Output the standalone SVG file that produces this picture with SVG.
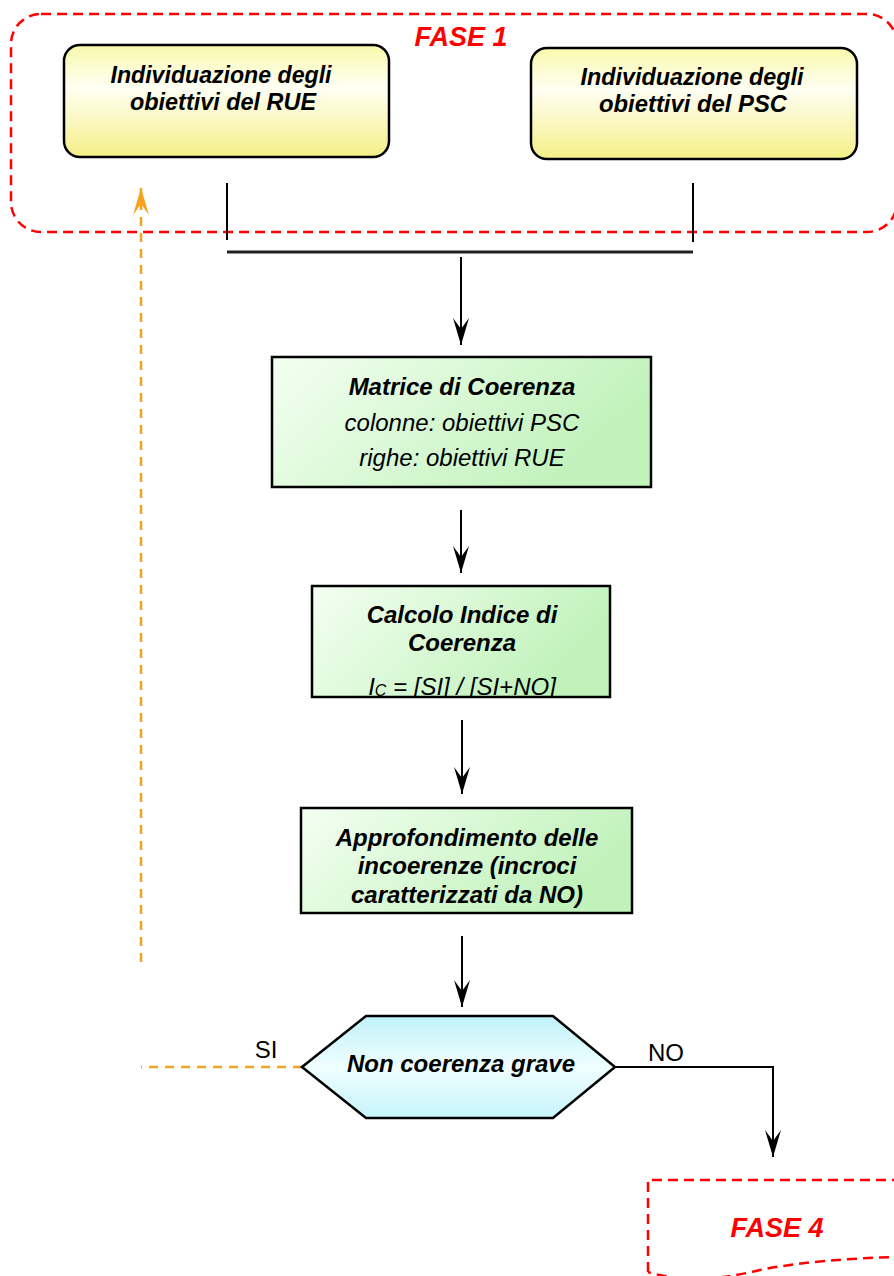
<svg xmlns="http://www.w3.org/2000/svg" width="894" height="1276" viewBox="0 0 894 1276">
<style>
.t{font-family:"Liberation Sans",Arial,sans-serif;font-weight:bold;font-style:italic;font-size:24px;fill:#000;text-anchor:middle}
.ti{font-family:"Liberation Sans",Arial,sans-serif;font-style:italic;font-size:24px;fill:#000;text-anchor:middle}
.tn{font-family:"Liberation Sans",Arial,sans-serif;font-size:24px;fill:#000;text-anchor:middle}
.fase{font-family:"Liberation Sans",Arial,sans-serif;font-weight:bold;font-style:italic;font-size:27px;fill:#ff0000;text-anchor:middle}
.box{stroke:#000;stroke-width:2.5}
.red{fill:none;stroke:#ff0000;stroke-width:2.5;stroke-dasharray:10 6}
.ln{fill:none;stroke:#000;stroke-width:2}
.or{fill:none;stroke:#f7a21c;stroke-width:2.5;stroke-dasharray:9 7}
</style>
<defs>
<linearGradient id="gy" x1="0" y1="0" x2="0" y2="1">
<stop offset="0" stop-color="#f9f9ac"/>
<stop offset="0.38" stop-color="#fffff4"/>
<stop offset="1" stop-color="#f4ef86"/>
</linearGradient>
<linearGradient id="gg" x1="0" y1="0" x2="1" y2="0.35">
<stop offset="0" stop-color="#f4fff2"/>
<stop offset="1" stop-color="#c0f2ba"/>
</linearGradient>
<linearGradient id="gc" x1="0" y1="0" x2="0" y2="1">
<stop offset="0" stop-color="#bff2f8"/>
<stop offset="0.5" stop-color="#f0feff"/>
<stop offset="1" stop-color="#c6f5fa"/>
</linearGradient>
<marker id="ah" markerUnits="userSpaceOnUse" markerWidth="27" markerHeight="16" refX="27" refY="8" orient="auto" viewBox="0 0 27 16">
<path d="M0,0 L27,8 L0,16 L11,8 Z" fill="#000"/>
</marker>
<marker id="ao" markerUnits="userSpaceOnUse" markerWidth="27" markerHeight="16" refX="27" refY="8" orient="auto" viewBox="0 0 27 16">
<path d="M0,0 L27,8 L0,16 L11,8 Z" fill="#f7a21c"/>
</marker>
<clipPath id="cc"><rect x="312" y="586" width="298" height="110"/></clipPath>
</defs>

<g id="fase1">
<rect class="red" x="11" y="14" width="886" height="218" rx="30"/>
<text class="fase" x="461" y="46" font-size="28" textLength="93" lengthAdjust="spacingAndGlyphs">FASE 1</text>
</g>

<g id="connectors">
<line class="ln" x1="227" y1="183" x2="227" y2="240"/>
<line class="ln" x1="693" y1="183" x2="693" y2="242"/>
<line x1="227" y1="252" x2="693" y2="252" stroke="#222" stroke-width="3"/>
<line class="ln" x1="461" y1="257" x2="461" y2="345" marker-end="url(#ah)"/>
<line class="ln" x1="461" y1="510" x2="461" y2="573" marker-end="url(#ah)"/>
<line class="ln" x1="462" y1="720" x2="462" y2="794" marker-end="url(#ah)"/>
<line class="ln" x1="462" y1="936" x2="462" y2="1007" marker-end="url(#ah)"/>
<polyline class="ln" points="615,1067 773,1067 773,1157" marker-end="url(#ah)"/>
<line class="or" x1="302" y1="1067" x2="141" y2="1067"/>
<line class="or" x1="141" y1="962" x2="141" y2="188" marker-end="url(#ao)"/>
<text class="tn" x="266" y="1058">SI</text>
<text class="tn" x="666" y="1061">NO</text>
</g>

<g id="rue">
<rect class="box" x="64" y="45" width="325" height="112" rx="16" fill="url(#gy)"/>
<text class="t" x="221" y="83" font-size="25" textLength="221" lengthAdjust="spacingAndGlyphs">Individuazione degli</text>
<text class="t" x="223" y="110" font-size="25" textLength="186" lengthAdjust="spacingAndGlyphs">obiettivi del RUE</text>
</g>

<g id="psc">
<rect class="box" x="531" y="48" width="326" height="111" rx="16" fill="url(#gy)"/>
<text class="t" x="692" y="85" font-size="25" textLength="223" lengthAdjust="spacingAndGlyphs">Individuazione degli</text>
<text class="t" x="693" y="112" font-size="25" textLength="188" lengthAdjust="spacingAndGlyphs">obiettivi del PSC</text>
</g>

<g id="matrice">
<rect class="box" x="272" y="357" width="379" height="130" fill="url(#gg)"/>
<text class="t" x="462" y="395">Matrice di Coerenza</text>
<text class="ti" x="462" y="431">colonne: obiettivi PSC</text>
<text class="ti" x="462" y="466">righe: obiettivi RUE</text>
</g>

<g id="calcolo">
<rect x="312" y="586" width="298" height="111" fill="url(#gg)"/>
<text class="t" x="462" y="623">Calcolo Indice di</text>
<text class="t" x="462" y="651">Coerenza</text>
<g clip-path="url(#cc)">
<text class="ti" x="462" y="695"><tspan>I</tspan><tspan font-size="16" dy="1">C</tspan><tspan dy="-1"> = [SI] / [SI+NO]</tspan></text>
</g>
<rect class="box" x="312" y="586" width="298" height="111" fill="none"/>
</g>

<g id="approfondimento">
<rect class="box" x="301" y="808" width="331" height="105" fill="url(#gg)"/>
<text class="t" x="467" y="846">Approfondimento delle</text>
<text class="t" x="467" y="874">incoerenze (incroci</text>
<text class="t" x="467" y="903">caratterizzati da NO)</text>
</g>

<g id="decisione">
<polygon class="box" points="302,1067 366,1016 553,1016 615,1067 553,1118 366,1118" fill="url(#gc)"/>
<text class="t" x="461" y="1072">Non coerenza grave</text>
</g>

<g id="fase4">
<path class="red" d="M648,1272 L648,1180 L900,1180 L900,1257 C850,1258 800,1262 760,1270 C720,1280 680,1282 648,1272"/>
<text class="fase" x="777" y="1237">FASE 4</text>
</g>
</svg>
